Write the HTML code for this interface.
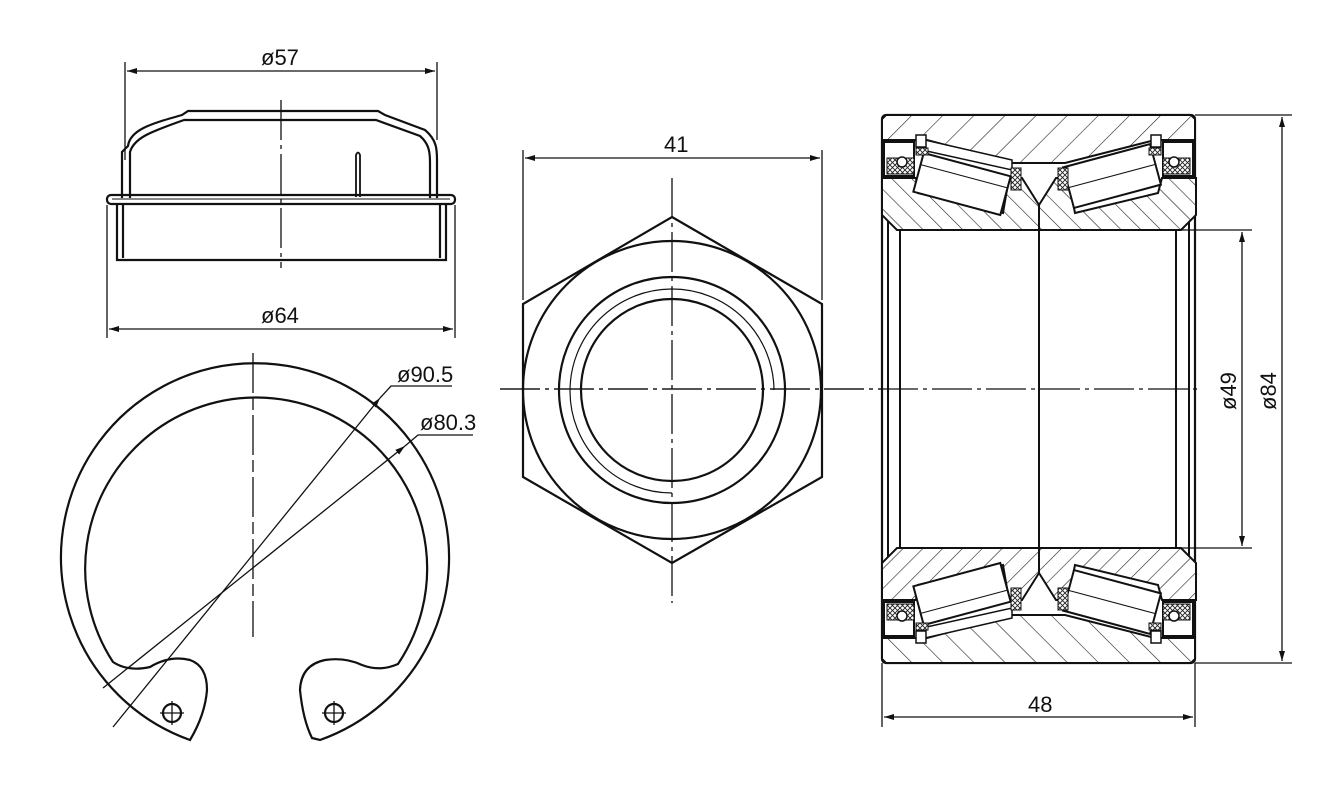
<!DOCTYPE html>
<html><head><meta charset="utf-8"><style>
html,body{margin:0;padding:0;background:#fff;width:1344px;height:792px;overflow:hidden}
svg{display:block}
text{font-family:"Liberation Sans",sans-serif;font-size:22px;fill:#111}
</style></head><body>
<svg width="1344" height="792" viewBox="0 0 1344 792" xmlns="http://www.w3.org/2000/svg">
<defs>
<pattern id="h" patternUnits="userSpaceOnUse" width="22" height="22" patternTransform="rotate(45)">
<rect width="22" height="22" fill="#fff"/><line x1="0" y1="0" x2="0" y2="22" stroke="#222" stroke-width="1.2"/></pattern>
<pattern id="h2" patternUnits="userSpaceOnUse" width="14" height="14" patternTransform="rotate(-45)">
<rect width="14" height="14" fill="#fff"/><line x1="0" y1="0" x2="0" y2="14" stroke="#222" stroke-width="1.2"/></pattern>
<pattern id="x" patternUnits="userSpaceOnUse" width="5" height="5">
<rect width="5" height="5" fill="#fff"/><path d="M0,0L5,5M5,0L0,5" stroke="#222" stroke-width="0.9"/></pattern>
<marker id="a" viewBox="0 0 10 10" refX="10" refY="5" markerWidth="10" markerHeight="10" orient="auto-start-reverse" markerUnits="userSpaceOnUse"><path d="M0,2L10,5L0,8z" fill="#111"/></marker>
<g id="half">
 <path d="M886,115H1191L1195,119V140H1155L1065,163H1013L927,140H882V119Z" fill="url(#h)" stroke="#111" stroke-width="2"/>
 <path d="M882,178H916L918,193L1003,213L1009,178L1022,178L1039,205V230H897L882,215Z" fill="url(#h2)" stroke="#111" stroke-width="2"/>
 <path d="M1196,178H1162L1158,193L1075,213L1068,178L1056,178L1039,205V230H1181L1196,215Z" fill="url(#h2)" stroke="#111" stroke-width="2"/>
 <g transform="rotate(15 962 184)"><rect x="917" y="164" width="90" height="40" fill="#fff" stroke="#111" stroke-width="2"/><line x1="917" y1="176" x2="1007" y2="176" stroke="#111"/></g>
 <path d="M922,150L1012,170L1012,160L925,140Z" fill="#fff" stroke="#111" stroke-width="1.5"/>
 <g transform="rotate(-15 1112 176)"><rect x="1067" y="155" width="90" height="42" fill="#fff" stroke="#111" stroke-width="2"/><line x1="1067" y1="176" x2="1157" y2="176" stroke="#111"/></g>
 <rect x="884" y="142" width="30" height="34" fill="#fff" stroke="#111" stroke-width="2"/>
 <rect x="887" y="158" width="27" height="16" fill="url(#x)" stroke="#111"/>
 <circle cx="902" cy="162" r="5" fill="#fff" stroke="#111" stroke-width="1.5"/>
 <rect x="916" y="135" width="10" height="12" fill="#fff" stroke="#111" stroke-width="1.5"/>
 <rect x="916" y="148" width="12" height="7" fill="url(#x)" stroke="#111"/>
 <rect x="1163" y="142" width="30" height="34" fill="#fff" stroke="#111" stroke-width="2"/>
 <rect x="1163" y="158" width="27" height="16" fill="url(#x)" stroke="#111"/>
 <circle cx="1174" cy="162" r="5" fill="#fff" stroke="#111" stroke-width="1.5"/>
 <rect x="1151" y="135" width="10" height="12" fill="#fff" stroke="#111" stroke-width="1.5"/>
 <rect x="1149" y="148" width="12" height="7" fill="url(#x)" stroke="#111"/>
 <rect x="1011" y="168" width="10" height="22" fill="url(#x)" stroke="#111"/>
 <rect x="1058" y="168" width="10" height="22" fill="url(#x)" stroke="#111"/>
</g>
</defs>
<g fill="none" stroke="#111" stroke-width="1.3">
<!-- cap -->
<line x1="125" y1="62" x2="125" y2="160"/><line x1="437" y1="62" x2="437" y2="140"/>
<line x1="127" y1="71" x2="435" y2="71" marker-start="url(#a)" marker-end="url(#a)"/>
<line x1="107" y1="205" x2="107" y2="338"/><line x1="455" y1="205" x2="455" y2="338"/>
<line x1="109" y1="329" x2="453" y2="329" marker-start="url(#a)" marker-end="url(#a)"/>
<line x1="281" y1="100" x2="281" y2="268" stroke-dasharray="40,5,4,5"/>
</g>
<g fill="none" stroke="#111" stroke-width="2.2">
<path d="M122,198V152L128,146C130,130 150,124 182,115L188,111H378L385,115L425,130C437,140 437,150 437,160V198"/>
<path d="M130,198V152C134,138 150,132 184,120H376L420,136C428,143 430,150 430,162V198"/>
<rect x="107" y="195" width="348" height="9" rx="4"/>
<line x1="112" y1="199" x2="450" y2="199" stroke-width="1"/>
<path d="M117,204V260H446V204M123,204V258M440,204V258"/>
<path d="M356,197V155Q358,150 360,155V197" stroke-width="1.8"/>
</g>
<!-- hex nut -->
<g fill="none" stroke="#111" stroke-width="2.2">
<path d="M672,217L822,304V477L672,563L523,477V304Z"/>
<circle cx="672" cy="390" r="149"/><circle cx="672" cy="390" r="113"/><circle cx="672" cy="390" r="91"/>
<path d="M672,493A102,102 0 1 1 774,390" stroke-width="1.2"/>
</g>
<g fill="none" stroke="#111" stroke-width="1.3">
<line x1="672" y1="178" x2="672" y2="603" stroke-dasharray="40,5,4,5"/>
<line x1="500" y1="389" x2="1200" y2="389" stroke-dasharray="40,5,4,5"/>
<line x1="523" y1="150" x2="523" y2="300"/><line x1="822" y1="150" x2="822" y2="300"/>
<line x1="525" y1="158" x2="820" y2="158" marker-start="url(#a)" marker-end="url(#a)"/>
</g>
<!-- bearing -->
<rect x="882" y="115" width="313" height="548" rx="4" fill="#fff" stroke="#111" stroke-width="2.2"/>
<g fill="none" stroke="#111" stroke-width="2">
<line x1="888" y1="220" x2="888" y2="558"/><line x1="900" y1="230" x2="900" y2="548"/>
<line x1="1176" y1="230" x2="1176" y2="548"/><line x1="1189" y1="220" x2="1189" y2="558"/>
<line x1="1039" y1="230" x2="1039" y2="548"/>
</g>
<use href="#half"/>
<use href="#half" transform="translate(0,778) scale(1,-1)"/>
<line x1="500" y1="389" x2="1200" y2="389" stroke="#111" stroke-width="1.3" stroke-dasharray="40,5,4,5"/>
<g fill="none" stroke="#111" stroke-width="1.3">
<line x1="1195" y1="115" x2="1292" y2="115"/><line x1="1195" y1="663" x2="1292" y2="663"/>
<line x1="1282" y1="117" x2="1282" y2="661" marker-start="url(#a)" marker-end="url(#a)"/>
<line x1="1180" y1="230" x2="1252" y2="230"/><line x1="1180" y1="548" x2="1252" y2="548"/>
<line x1="1242" y1="232" x2="1242" y2="546" marker-start="url(#a)" marker-end="url(#a)"/>
<line x1="882" y1="663" x2="882" y2="727"/><line x1="1195" y1="663" x2="1195" y2="727"/>
<line x1="884" y1="717" x2="1193" y2="717" marker-start="url(#a)" marker-end="url(#a)"/>
</g>
<!-- snap ring -->
<g fill="none" stroke="#111" stroke-width="2.2">
<path d="M190,740A194,194 0 1 1 320,740L312,738Q303,720 300,690Q301,665 325,660Q345,657 362,665Q380,672 398,664A171,171 0 1 0 113,662Q128,672 150,667Q170,655 190,660Q207,666 207,690Q205,715 190,740Z"/>
<circle cx="172" cy="713" r="9"/><circle cx="334" cy="713" r="9"/>
</g>
<g fill="none" stroke="#111" stroke-width="1.3">
<path d="M160,713H184M172,701V725M322,713H346M334,701V725"/>
<line x1="253" y1="353" x2="253" y2="637" stroke-dasharray="40,5,12,5"/>
<line x1="113" y1="727" x2="380" y2="398" marker-end="url(#a)"/><path d="M380,398L391,386H452"/>
<line x1="103" y1="688" x2="405" y2="446" marker-end="url(#a)"/><path d="M405,446L418,435H473"/>
</g>
<text x="261" y="65">ø57</text>
<text x="261" y="323">ø64</text>
<text x="664" y="152">41</text>
<text x="1028" y="712">48</text>
<text x="397" y="382">ø90.5</text>
<text x="420" y="430">ø80.3</text>
<text transform="translate(1236,410) rotate(-90)">ø49</text>
<text transform="translate(1276,410) rotate(-90)">ø84</text>
</svg>
</body></html>
